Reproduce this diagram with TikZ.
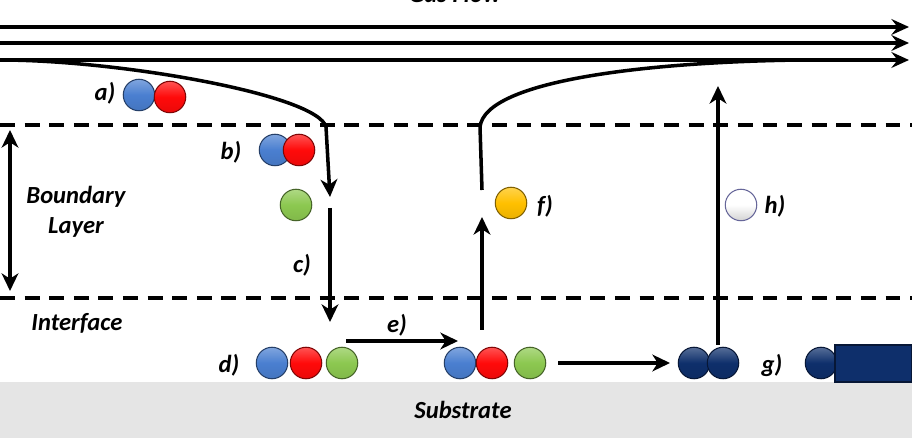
\documentclass[tikz,border=0pt]{standalone}
\usepackage{fontspec}
\setmainfont{Carlito}
\usepackage{tikz}
\usetikzlibrary{arrows.meta}

\definecolor{blueatom}{HTML}{4A7FD0}
\definecolor{redatom}{HTML}{FF0A0A}
\definecolor{greenatom}{HTML}{8CC850}
\definecolor{yellowatom}{HTML}{FFC000}
\definecolor{navyatom}{HTML}{0E2F6B}
\definecolor{substratecol}{HTML}{E5E5E5}

\tikzset{
  atom/.style={circle, minimum size=0.63cm, inner sep=0pt, top color=#1!70!white, bottom color=#1!92!black, middle color=#1, draw=#1!50!black, line width=0.6pt},
  white atom/.style={circle, minimum size=0.63cm, inner sep=0pt, top color=white, bottom color=gray!35, middle color=white, draw=blue!20!gray, line width=0.6pt},
  lbl/.style={font=\bfseries\itshape\fontsize{14}{16}\selectfont, inner sep=0pt},
  flow/.style={line width=2.2pt, -{Stealth[length=10pt,width=9pt,inset=3.5pt]}},
  step arrow/.style={line width=2pt, -{Stealth[length=10pt,width=9.5pt,inset=3pt]}},
  layer/.style={line width=2.2pt, dash pattern=on 8.5pt off 5.5pt},
}

\begin{document}
\begin{tikzpicture}[x=0.02cm, y=-0.02cm]
\useasboundingbox (0,0) rectangle (912,438);

\fill[substratecol] (0,382) rectangle (912,438);							% Substrat
\node[lbl] (substrate) at (463,410) {Substrate};

\draw[layer] (0,125) -- (912,125);										% Grenzschicht oben
\draw[layer] (0,298) -- (912,298);										% Grenzschicht unten

\node[lbl, anchor=base] (gasflow) at (455,3) {Gas Flow};
\coordinate (gin1) at (0,27);  \coordinate (gout1) at (909,27);
\coordinate (gin2) at (0,43);  \coordinate (gout2) at (909,43);
\coordinate (gin3) at (0,60);  \coordinate (gout3) at (909,60);
\draw[flow] (gin1) -- (gout1);											% Gasstrom 1
\draw[flow] (gin2) -- (gout2);											% Gasstrom 2
\draw[flow] (gin3) -- (gout3);											% Gasstrom 3

\coordinate (blup) at (10,130); \coordinate (bldown) at (10,291);
\draw[step arrow, {Stealth[length=10pt,width=9.5pt,inset=3pt]}-{Stealth[length=10pt,width=9.5pt,inset=3pt]}] (blup) -- (bldown);	% Boundary Layer Pfeil
\node[lbl, align=center] (boundary) at (76,212) {Boundary\\[1pt]Layer};
\node[lbl] (interface) at (77,323) {Interface};

% a) Transport im Gasstrom
\node[lbl] (la) at (105,93) {a)};
\node[atom=blueatom] (a1) at (139,95) {};
\node[atom=redatom] (a2) at (170,97) {};

% b) Diffusion durch die Grenzschicht
\coordinate (din) at (326,127);
\coordinate (dtip) at (330,197);
\draw[step arrow] (gin3) .. controls (120,60) and (318,95) .. (din) -- (dtip);
\node[lbl] (lb) at (231,152) {b)};
\node[atom=blueatom] (b1) at (275,150) {};
\node[atom=redatom] (b2) at (299,150) {};
\node[atom=greenatom] (b3) at (296,205) {};

% c) Adsorption
\coordinate (cstart) at (330,208);
\coordinate (ctip) at (330,322);
\draw[step arrow] (cstart) -- (ctip);
\node[lbl] (lc) at (302,265) {c)};

% d) Oberflaechenreaktion
\node[lbl] (ld) at (229,365) {d)};
\node[atom=blueatom] (d1) at (272,363) {};
\node[atom=redatom] (d2) at (306,363) {};
\node[atom=greenatom] (d3) at (342,363) {};

% e) Oberflaechendiffusion
\coordinate (estart) at (346,341);
\coordinate (etip) at (458,341);
\draw[step arrow] (estart) -- (etip);
\node[lbl] (le) at (397,325) {e)};
\node[atom=blueatom] (e1) at (460,363) {};
\node[atom=redatom] (e2) at (492,363) {};
\node[atom=greenatom] (e3) at (530,363) {};

% f) Desorption der Nebenprodukte
\coordinate (fstart) at (482,330);
\coordinate (ftip) at (482,217);
\draw[step arrow] (fstart) -- (ftip);
\coordinate (fup) at (482,190);
\coordinate (fout) at (480,127);
\draw[line width=2pt] (fup) -- (fout) .. controls (485,80) and (650,62) .. (800,60);
\node[atom=yellowatom] (f1) at (511,203) {};
\node[lbl] (lf) at (545,206) {f)};

% g) Schichtwachstum
\coordinate (gstart) at (558,363);
\coordinate (gtip) at (670,363);
\draw[step arrow] (gstart) -- (gtip);
\node[atom=navyatom] (g1) at (694,363) {};
\node[atom=navyatom] (g2) at (723,363) {};
\node[lbl] (lg) at (772,365) {g)};
\node[atom=navyatom] (g3) at (821,363) {};
\fill[navyatom] (835,345) rectangle (912,382);							% Schicht
\draw[navyatom!50!black, line width=0.7pt] (835,345) rectangle (911.6,382);

% h) Abtransport
\coordinate (hstart) at (718,345);
\coordinate (htip) at (718,86);
\draw[step arrow] (hstart) -- (htip);
\node[white atom] (h1) at (741,205) {};
\node[lbl] (lh) at (775,206) {h)};

\end{tikzpicture}
\end{document}
